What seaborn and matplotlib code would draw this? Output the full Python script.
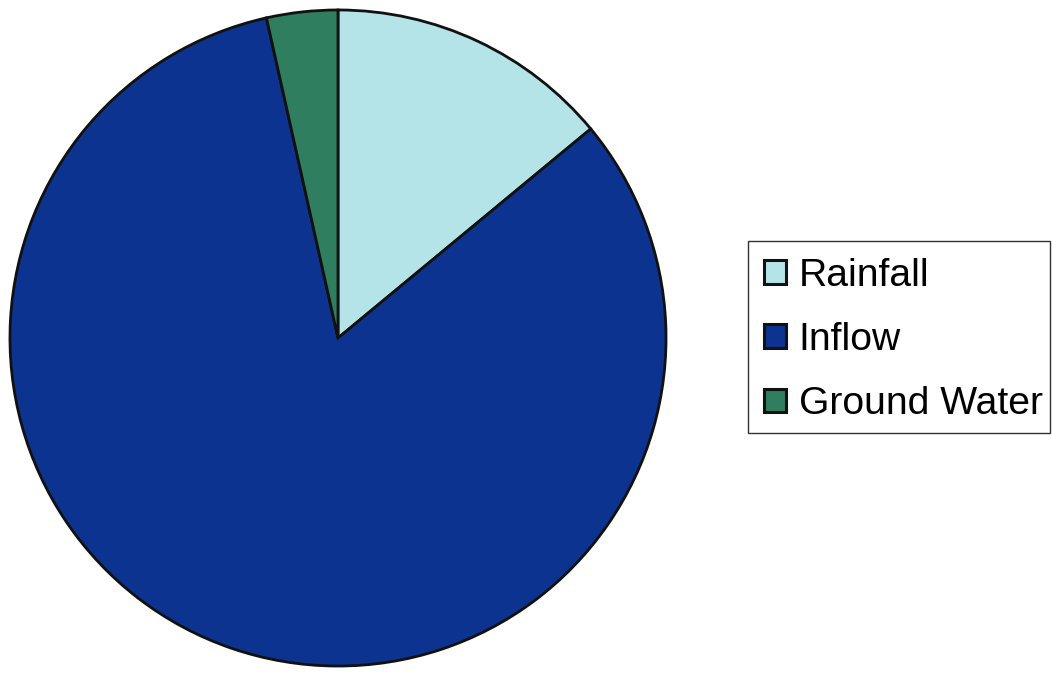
import matplotlib
matplotlib.use("Agg")
import matplotlib.pyplot as plt
import seaborn as sns
from matplotlib.patches import Patch, Rectangle

sns.set_theme(style="white")
plt.rcParams["font.family"] = ["Liberation Sans", "DejaVu Sans"]

# Water inputs (share of total, %)
sources = ["Rainfall", "Inflow", "Ground Water"]
shares = [14.0, 82.5, 3.5]
colors = ["#b4e4e8", "#0b338f", "#2f7e5f"]

W, H = 1052, 675
fig = plt.figure(figsize=(W / 100, H / 100), dpi=100)
fig.patch.set_facecolor("white")

cx, cy, r = 338, 338, 330
ax = fig.add_axes([(cx - r) / W, (H - cy - r) / H, 2 * r / W, 2 * r / H])
wedges, _ = ax.pie(
    shares,
    colors=colors,
    startangle=90,
    counterclock=False,
    radius=1.0,
    wedgeprops=dict(edgecolor="#111111", linewidth=2.0),
)
ax.set_xlim(-1.006, 1.006)
ax.set_ylim(-1.006, 1.006)
ax.set_axis_off()

# Legend box outline
fig.patches.append(Rectangle(
    (748 / W, 1 - 433 / H), (1050 - 748) / W, (433 - 241) / H,
    transform=fig.transFigure, facecolor="white", edgecolor="#333333",
    linewidth=1.0, zorder=0,
))

fs = 28.2
handles = [Patch(facecolor=c, edgecolor="#111111", linewidth=2.2) for c in colors]
leg = fig.legend(
    handles,
    sources,
    loc="upper left",
    bbox_to_anchor=(764 / W, 1 - 258 / H),
    bbox_transform=fig.transFigure,
    fontsize=fs,
    frameon=False,
    handlelength=0.56,
    handleheight=0.56,
    handletextpad=0.33,
    labelspacing=0.72,
    borderpad=0,
    borderaxespad=0,
)
for t in leg.get_texts():
    t.set_color("black")

fig.savefig("out.png", dpi=100, facecolor="white")
